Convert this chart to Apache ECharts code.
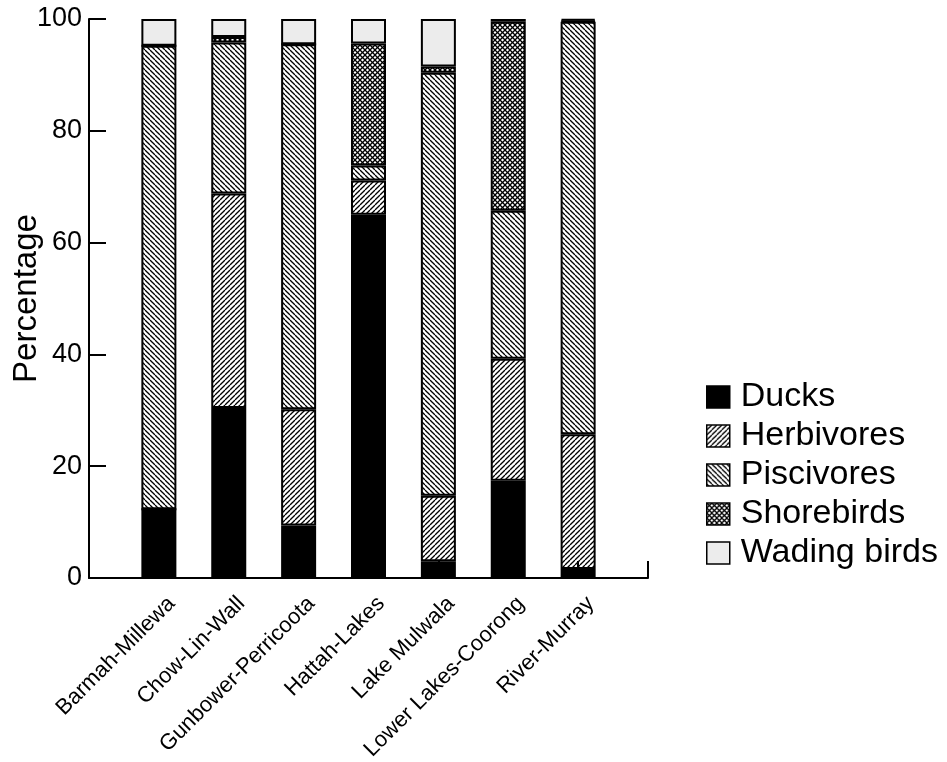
<!DOCTYPE html>
<html>
<head>
<meta charset="utf-8">
<script src="https://cdn.jsdelivr.net/npm/echarts@6/dist/echarts.min.js"></script>
<style>
html,body{margin:0;padding:0;background:#fff;}
#chart{width:947px;height:762px;}
</style>
</head>
<body>
<div id="chart"></div>
<script>
// ---- data ----
const categories = ['Barmah-Millewa','Chow-Lin-Wall','Gunbower-Perricoota','Hattah-Lakes','Lake Mulwala','Lower Lakes-Coorong','River-Murray'];
const ducks      = [12.3, 30.4,  9.4, 65.0,  3.0, 17.4,  1.6];
const herbivores = [ 0.0, 38.4, 20.8,  6.1, 11.7, 21.8, 24.1];
const piscivores = [82.9, 27.0, 65.3,  2.7, 75.7, 26.5, 73.8];
const shorebirds = [ 0.0,  1.0,  0.0, 21.8,  1.1, 33.8,  0.2];
const wading     = [ 4.8,  3.2,  4.5,  4.4,  8.5,  0.5,  0.3];
const seriesNames = ['Ducks','Herbivores','Piscivores','Shorebirds','Wading birds'];
const yMin = 0, yMax = 100, yStep = 20;

// ---- patterns ----
function makePattern(kind){
  const s = 5;
  const c = document.createElement('canvas');
  c.width = s; c.height = s;
  const g = c.getContext('2d');
  g.fillStyle = '#fff'; g.fillRect(0,0,s,s);
  g.strokeStyle = '#000'; g.lineWidth = 1.3;
  function back(){ for (const k of [-s,0,s]) { g.beginPath(); g.moveTo(k,0); g.lineTo(k+s,s); g.stroke(); } }
  function fwd(){ for (const k of [-s,0,s]) { g.beginPath(); g.moveTo(k,s); g.lineTo(k+s,0); g.stroke(); } }
  if (kind === 'fwd') fwd();
  else if (kind === 'back') back();
  else { g.lineWidth = 1.3; fwd(); back(); }
  return {image: c, repeat: 'repeat'};
}
const fills = ['#000000', makePattern('fwd'), makePattern('back'), makePattern('cross'), '#ececec'];
const values = [ducks, herbivores, piscivores, shorebirds, wading];

// category axis padded with empty slots at both ends
const xData = [''].concat(categories, ['']);
const font = "'Liberation Sans', Arial, sans-serif";

const series = seriesNames.map((name, i) => ({
  name: name,
  type: 'bar',
  stack: 'total',
  barWidth: 35,
  data: [null].concat(values[i], [null]),
  itemStyle: { color: fills[i], borderColor: '#000', borderWidth: 2 },
  emphasis: { disabled: true },
  z: 2
}));

const chart = echarts.init(document.getElementById('chart'), null, {renderer: 'canvas'});
chart.setOption({
  animation: false,
  backgroundColor: '#fff',
  grid: { left: 89, right: 299, top: 19, bottom: 184, containLabel: false, outerBoundsMode: 'none' },
  legend: {
    orient: 'vertical',
    left: 701, top: 375,
    itemWidth: 23, itemHeight: 22,
    itemGap: 5,
    icon: 'rect',
    selectedMode: false,
    itemStyle: { borderColor: '#000', borderWidth: 1.5 },
    textStyle: { fontFamily: font, fontSize: 34, color: '#000', padding: [0,0,0,6] },
    data: seriesNames
  },
  xAxis: {
    type: 'category',
    data: xData,
    boundaryGap: false,
    z: 10,
    axisLine: { lineStyle: { color: '#000', width: 2 } },
    axisTick: { inside: true, length: 17, interval: 0, lineStyle: { color: '#000', width: 2 } },
    axisLabel: {
      interval: 0, rotate: 45, margin: 35,
      fontFamily: font, fontSize: 22, color: '#000',
      padding: [37, -18, -37, 0]
    },
    splitLine: { show: false }
  },
  yAxis: {
    type: 'value',
    min: yMin, max: yMax, interval: yStep,
    name: 'Percentage',
    nameLocation: 'middle',
    nameGap: 46,
    nameMoveOverlap: false,
    nameTextStyle: { fontFamily: font, fontSize: 33, color: '#000' },
    axisLine: { show: true, lineStyle: { color: '#000', width: 2 } },
    axisTick: { show: true, inside: true, length: 17, lineStyle: { color: '#000', width: 2 } },
    axisLabel: { fontFamily: font, fontSize: 27, color: '#000', margin: 7 },
    splitLine: { show: false }
  },
  series: series
});
</script>
</body>
</html>
